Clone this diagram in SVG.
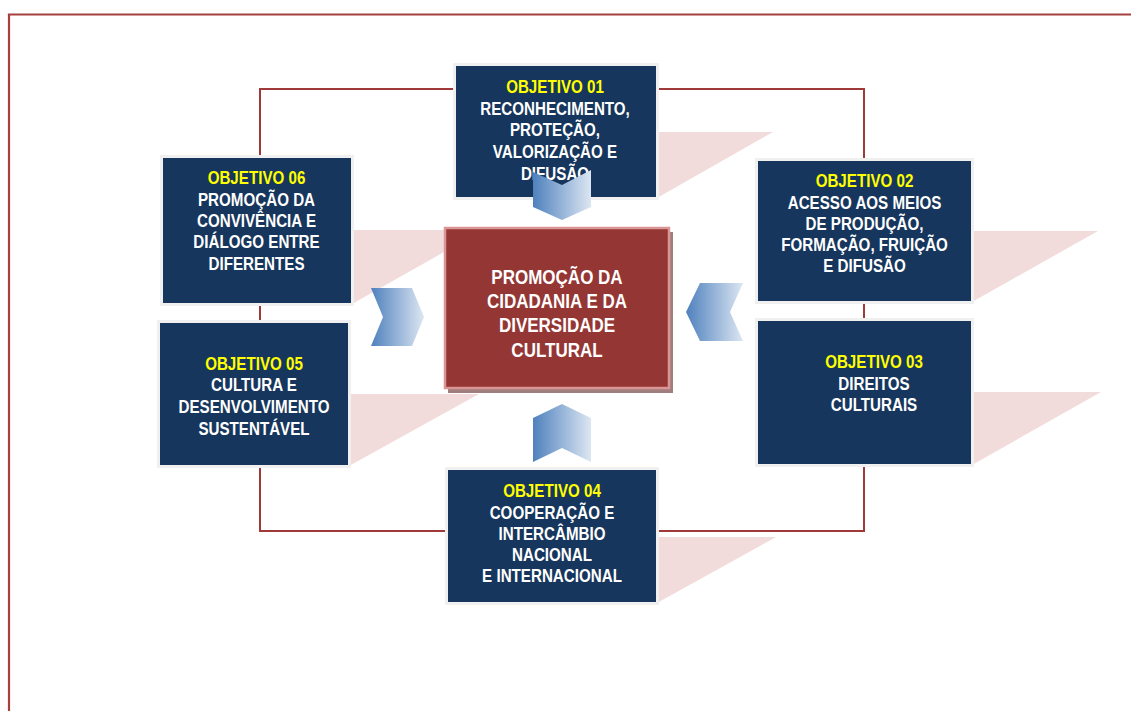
<svg xmlns="http://www.w3.org/2000/svg" width="1131" height="711" viewBox="0 0 1131 711">
  <defs>
    <linearGradient id="chevFill" x1="0" y1="0" x2="1" y2="0">
      <stop offset="0" stop-color="#4f81bd"/>
      <stop offset="1" stop-color="#dce6f2"/>
    </linearGradient>
    <style>
      .frame { fill:none; stroke:#a5403f; stroke-width:2.2; }
      .conn { fill:none; stroke:#9e3a38; stroke-width:2; }
      .shade { fill:#f2dcdb; }
      .box { fill:#17365d; stroke:#f0f0f0; stroke-width:3; }
      .core { fill:#943634; stroke:#d99694; stroke-width:2.5; }
      .core-shadow { fill:#a07e7e; }
      .chev { fill:url(#chevFill); }
      .t { font-family:"Liberation Sans",Arial,sans-serif; font-weight:bold; font-size:18.5px; fill:#ffffff; text-anchor:middle; }
      .h { fill:#ffff00; }
      .big { font-size:20.5px; }
    </style>
  </defs>

  <rect width="1131" height="711" fill="#ffffff"/>

  <!-- page frame -->
  <path class="frame" d="M9,720 V14.5 H1140"/>

  <!-- connectors linking the six objectives -->
  <g id="connectors">
    <rect class="conn" x="260" y="89" width="604" height="442"/>
  </g>

  <!-- slanted shadows behind the objective boxes -->
  <g id="shadows">
    <polygon class="shade" points="560,132 773,132 657,198 560,198"/>
    <polygon class="shade" points="880,231 1098,231 972,302 880,302"/>
    <polygon class="shade" points="880,392 1101,392 972,465 880,465"/>
    <polygon class="shade" points="560,537 776,537 657,603 560,603"/>
    <polygon class="shade" points="260,394 479,394 349,466 260,466"/>
    <polygon class="shade" points="260,230 483,230 352,304 260,304"/>
  </g>

  <!-- labels use a condensed face: Liberation Sans squeezed horizontally -->
  <g id="obj01">
    <rect class="box" x="454.5" y="64.5" width="203" height="134"/>
    <g transform="translate(555 0) scale(0.82 1)">
      <text class="t h" x="0" y="93">OBJETIVO 01</text>
      <text class="t" x="0" y="115">RECONHECIMENTO,</text>
      <text class="t" x="0" y="136.5">PROTEÇÃO,</text>
      <text class="t" x="0" y="158">VALORIZAÇÃO E</text>
      <text class="t" x="0" y="180">DIFUSÃO</text>
    </g>
  </g>

  <g id="obj02">
    <rect class="box" x="756.5" y="159.5" width="216" height="143"/>
    <g transform="translate(864.5 0) scale(0.82 1)">
      <text class="t h" x="0" y="187.5">OBJETIVO 02</text>
      <text class="t" x="0" y="209">ACESSO AOS MEIOS</text>
      <text class="t" x="0" y="230">DE PRODUÇÃO,</text>
      <text class="t" x="0" y="251">FORMAÇÃO, FRUIÇÃO</text>
      <text class="t" x="0" y="272">E DIFUSÃO</text>
    </g>
  </g>

  <g id="obj03">
    <rect class="box" x="756.5" y="319.5" width="216" height="146"/>
    <g transform="translate(874 0) scale(0.82 1)">
      <text class="t h" x="0" y="368.5">OBJETIVO 03</text>
      <text class="t" x="0" y="390">DIREITOS</text>
      <text class="t" x="0" y="411">CULTURAIS</text>
    </g>
  </g>

  <g id="obj04">
    <rect class="box" x="446.5" y="468.5" width="211" height="135"/>
    <g transform="translate(552 0) scale(0.82 1)">
      <text class="t h" x="0" y="497">OBJETIVO 04</text>
      <text class="t" x="0" y="519">COOPERAÇÃO E</text>
      <text class="t" x="0" y="540">INTERCÂMBIO</text>
      <text class="t" x="0" y="561.5">NACIONAL</text>
      <text class="t" x="0" y="582.5">E INTERNACIONAL</text>
    </g>
  </g>

  <g id="obj05">
    <rect class="box" x="158.5" y="321.5" width="191" height="145"/>
    <g transform="translate(254 0) scale(0.82 1)">
      <text class="t h" x="0" y="370">OBJETIVO 05</text>
      <text class="t" x="0" y="391.5">CULTURA E</text>
      <text class="t" x="0" y="413">DESENVOLVIMENTO</text>
      <text class="t" x="0" y="435">SUSTENTÁVEL</text>
    </g>
  </g>

  <g id="obj06">
    <rect class="box" x="161.5" y="156.5" width="191" height="148"/>
    <g transform="translate(256.5 0) scale(0.82 1)">
      <text class="t h" x="0" y="184">OBJETIVO 06</text>
      <text class="t" x="0" y="206.5">PROMOÇÃO DA</text>
      <text class="t" x="0" y="227.5">CONVIVÊNCIA E</text>
      <text class="t" x="0" y="248.5">DIÁLOGO ENTRE</text>
      <text class="t" x="0" y="270">DIFERENTES</text>
    </g>
  </g>

  <g id="center">
    <rect class="core-shadow" x="448" y="232" width="225" height="161"/>
    <rect class="core" x="445" y="228" width="224" height="160"/>
    <g transform="translate(557 0) scale(0.83 1)">
      <text class="t big" x="0" y="284.5">PROMOÇÃO DA</text>
      <text class="t big" x="0" y="308">CIDADANIA E DA</text>
      <text class="t big" x="0" y="332.5">DIVERSIDADE</text>
      <text class="t big" x="0" y="357">CULTURAL</text>
    </g>
  </g>

  <!-- chevrons pointing at the centre -->
  <g id="chevrons">
    <polygon class="chev" points="533,172 562,185 591,170 591,207 562,220 533,207"/>
    <polygon class="chev" points="371,288 412,288 424,317 412,346 371,346 383,317"/>
    <polygon class="chev" points="743,283 700,283 686,312 700,341 743,341 730,312"/>
    <polygon class="chev" points="533,418 562,404 591,418 591,462 562,448 533,462"/>
  </g>
</svg>
